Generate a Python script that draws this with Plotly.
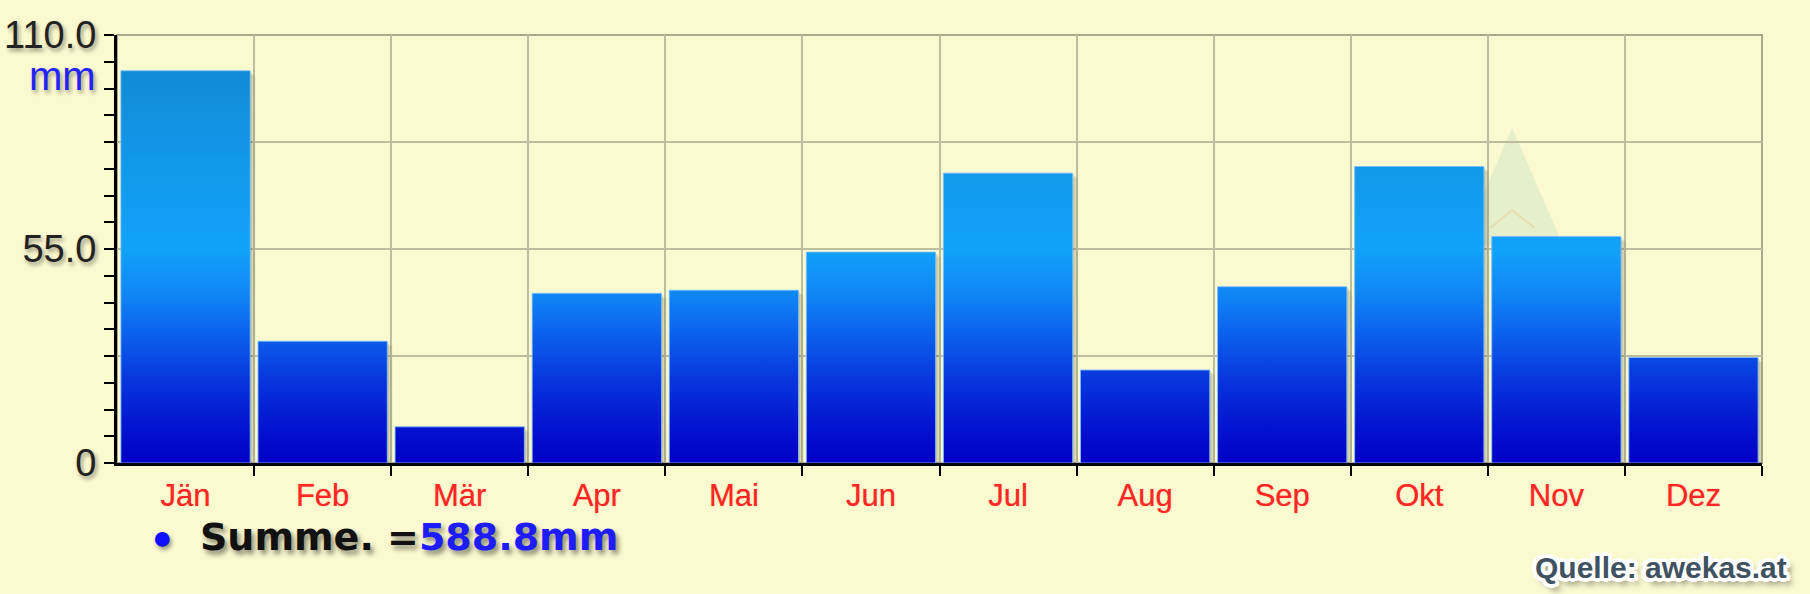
import plotly.graph_objects as go

# ---------------- data ----------------
months = ["Jän", "Feb", "Mär", "Apr", "Mai", "Jun", "Jul", "Aug", "Sep", "Okt", "Nov", "Dez"]
precip_mm = [100.8, 31.3, 9.3, 43.6, 44.4, 54.2, 74.5, 23.9, 45.3, 76.2, 58.2, 27.1]
y_tick_vals = [0, 27.5, 55, 82.5, 110]
y_tick_text = ["0", "", "55.0", "", "110.0"]
y_max = 110
unit = "mm"
sum_label = "Summe. ="
source_label = "Quelle: awekas.at"

# ---------------- style ----------------
BG = "#fbf9cf"
GRID = "#bdbd9f"
FONT = "Liberation Sans, Arial, sans-serif"
FONT_WIDE = "DejaVu Sans, Verdana, sans-serif"
BAR_W = 0.943
TEXT_SHADOW = "2px 3px 4px rgba(0,0,0,0.4)"

bar_scale = [
    [0.00, "rgb(0,0,196)"],
    [0.10, "rgb(4,24,210)"],
    [0.20, "rgb(8,56,222)"],
    [0.30, "rgb(12,96,236)"],
    [0.40, "rgb(16,136,245)"],
    [0.50, "rgb(18,162,250)"],
    [0.70, "rgb(18,152,234)"],
    [1.00, "rgb(16,134,204)"],
]


def bar_outline(values, dx=0.0, dy=0.0, w=BAR_W):
    xs, ys = [], []
    for i, v in enumerate(values):
        x0, x1 = i - w / 2 + dx, i + w / 2 + dx
        xs += [x0, x0, x1, x1, x0, None]
        ys += [dy, v + dy, v + dy, dy, dy, None]
    return xs, ys


fig = go.Figure()

# soft drop shadow of the bars (several faint layers)
for dx, dy, a in [(0.012, -0.4, 0.10), (0.024, -0.8, 0.09), (0.038, -1.2, 0.07)]:
    sx, sy = bar_outline(precip_mm, dx, dy)
    fig.add_trace(go.Scatter(
        x=sx, y=sy, mode="lines", fill="toself",
        fillcolor=f"rgba(40,40,20,{a})", line=dict(width=0),
        hoverinfo="skip", showlegend=False,
    ))

# bars with vertical gradient (on the month-label axis)
bx, by = bar_outline(precip_mm)
fig.add_trace(go.Scatter(
    x=bx, y=by, mode="lines", fill="toself", xaxis="x2", yaxis="y",
    fillgradient=dict(type="vertical", colorscale=bar_scale, start=0, stop=y_max),
    line=dict(color="rgba(120,190,255,0.85)", width=1),
    hoverinfo="skip", showlegend=False, name="Niederschlag",
))

# faint logo watermark
fig.add_shape(type="path", xref="x", yref="y", layer="below",
              path="M 9.305 56 L 9.677 86.1 L 10.049 56 Z",
              fillcolor="rgba(150,205,195,0.22)", line=dict(width=0))
fig.add_shape(type="path", xref="x", yref="y", layer="below",
              path="M 9.52 60.5 L 9.677 65 L 9.84 60.5",
              line=dict(color="rgba(235,190,130,0.35)", width=2))

# plot frame (top/right)
fig.add_shape(type="rect", xref="paper", yref="paper", x0=0, x1=1, y0=0, y1=1,
              layer="below", line=dict(color="#a9a98c", width=2))

total = sum(precip_mm)

fig.update_layout(
    width=1810, height=594,
    paper_bgcolor=BG, plot_bgcolor=BG,
    margin=dict(l=117, r=48, t=35, b=131, pad=0),
    showlegend=False,
    xaxis=dict(
        range=[-0.5, 11.5], tickmode="array",
        tickvals=[i + 0.5 for i in range(len(months))],
        showticklabels=False, ticks="outside", ticklen=10, tickwidth=2, tickcolor="black",
        showgrid=True, gridcolor=GRID, gridwidth=2, automargin=False,
        showline=True, linecolor="black", linewidth=3, zeroline=False,
    ),
    xaxis2=dict(
        overlaying="x", anchor="y", side="bottom",
        range=[-0.5, 11.5], tickmode="array",
        tickvals=list(range(len(months))), ticktext=months,
        showgrid=False, showline=False, zeroline=False, ticks="", automargin=False,
        ticklabelstandoff=11,
        tickfont=dict(family=FONT, size=31, color="#ff2626", shadow="0 0 1px rgba(255,40,40,0.6)"),
    ),
    yaxis=dict(
        range=[0, y_max], tickmode="array", tickvals=y_tick_vals, ticktext=y_tick_text,
        ticks="outside", ticklen=10, tickwidth=2, tickcolor="black",
        showgrid=True, gridcolor=GRID, gridwidth=2, automargin=False,
        showline=True, linecolor="black", linewidth=3, zeroline=False,
        tickfont=dict(family=FONT, size=38, color="#222222", shadow=TEXT_SHADOW),
        minor=dict(tickmode="linear", tick0=0, dtick=y_max / 16, ticks="outside",
                   ticklen=10, tickwidth=2, tickcolor="black", showgrid=False),
    ),
    annotations=[
        dict(text=unit, xref="paper", yref="paper", x=-0.0115, y=0.905,
             xanchor="right", yanchor="middle", showarrow=False,
             font=dict(family=FONT, size=40, color="#2323ff", shadow=TEXT_SHADOW)),
        dict(text="●", xref="paper", yref="paper", x=0.0279, y=-0.173,
             xanchor="center", yanchor="middle", showarrow=False,
             font=dict(family=FONT, size=34, color="#1010ff", shadow=TEXT_SHADOW)),
        dict(text=f"<b>{sum_label}<span style='color:#1c1cff'>{total:.1f}{unit}</span></b>",
             xref="paper", yref="paper", x=0.0495, y=-0.173,
             xanchor="left", yanchor="middle", showarrow=False,
             font=dict(family=FONT_WIDE, size=38, color="#111111",
                       shadow="3px 4px 5px rgba(0,0,0,0.45)")),
        dict(text=f"<b>{source_label}</b>", xref="paper", yref="paper", x=1.0164, y=-0.245,
             xanchor="right", yanchor="middle", showarrow=False,
             font=dict(family=FONT, size=30, color="#40525f",
                       shadow=("-3px -3px 0 #fff, 3px -3px 0 #fff, -3px 3px 0 #fff, 3px 3px 0 #fff, "
                               "0 -4px 0 #fff, 0 4px 0 #fff, -4px 0 0 #fff, 4px 0 0 #fff, "
                               "-4px -2px 0 #fff, 4px 2px 0 #fff, "
                               "5px 6px 6px rgba(0,0,0,0.55)"))),
    ],
)

fig.write_html(
    "out.html",
    config={"displayModeBar": False},
    post_script="document.body.style.margin='0';document.body.style.background='#fbf9cf';",
)
